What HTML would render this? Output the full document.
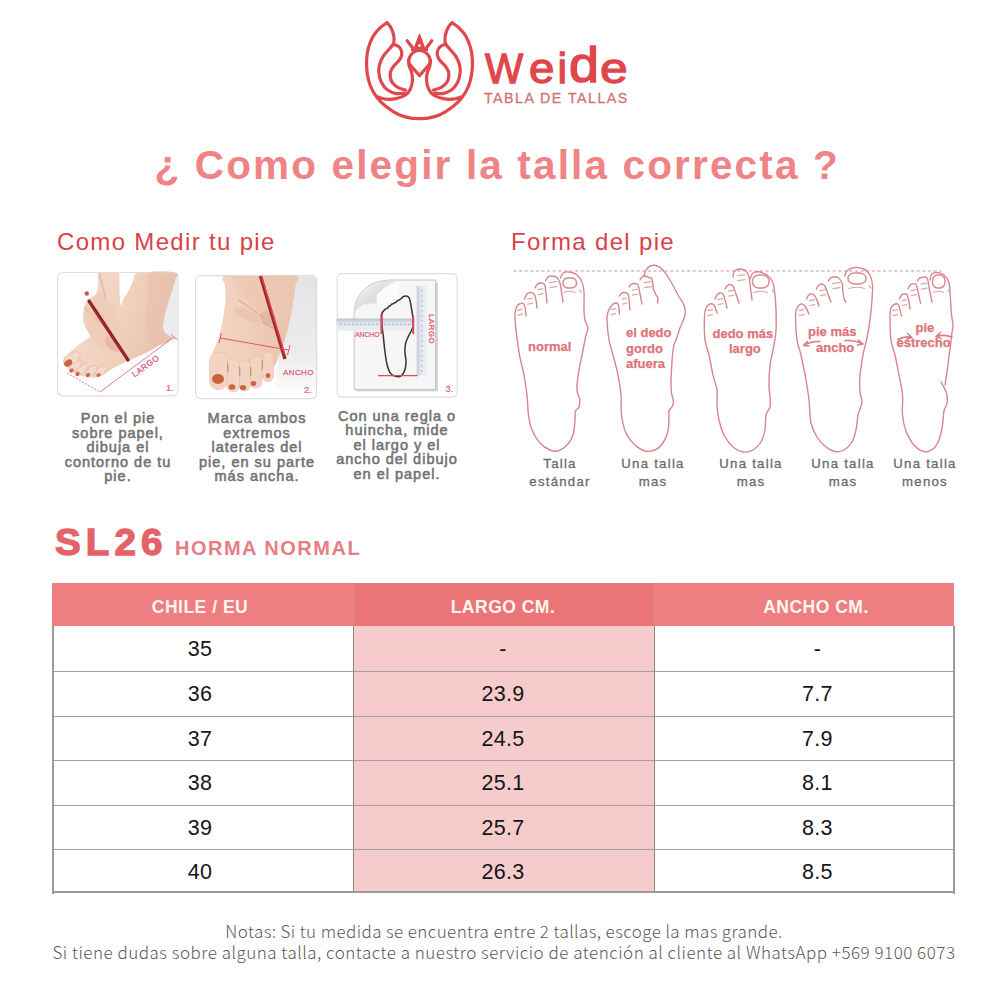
<!DOCTYPE html>
<html><head><meta charset="utf-8">
<style>
*{margin:0;padding:0;box-sizing:border-box}
html,body{width:1000px;height:1000px;background:#fff;overflow:hidden}
body{position:relative;font-family:"Liberation Sans",Arial,sans-serif}
.abs{position:absolute;white-space:nowrap}
#title{left:154.5px;top:142.3px;font-size:40.5px;font-weight:bold;color:#ef8385;letter-spacing:2.15px}
.h2{font-size:24px;color:#d8434a;letter-spacing:1.33px}
.cap{font-weight:normal;color:#727272;font-size:14.5px;line-height:14.5px;text-align:center;letter-spacing:1.0px;-webkit-text-stroke:0.55px #727272}
.fcap{color:#6a6a6a;font-size:13.2px;line-height:18px;text-align:center;letter-spacing:1.25px;-webkit-text-stroke:0.3px #6a6a6a}
table{position:absolute;left:52px;top:583px;border-collapse:collapse;width:903px}
.th{font-size:17.5px;font-weight:bold;color:#fff6f2;letter-spacing:0.5px;text-align:center;line-height:20px}
.td{width:200px;font-size:21.5px;color:#151515;letter-spacing:0.3px;text-align:center;line-height:24px}
.note{font-family:"Noto Sans CJK JP",sans-serif;font-weight:300;font-size:17px;color:#5a5a5a;text-align:center;letter-spacing:0.5px;line-height:21px}
.wd{top:41.5px;font-size:43px;line-height:53px;color:#e0474d;-webkit-text-stroke:1.3px #e0474d;transform-origin:0 83%}
</style></head><body>

<!-- LOGO -->
<div id="logo"><svg class="abs" style="left:350px;top:10px" width="140" height="120" viewBox="350 10 140 120">
<g fill="none" stroke="#e0484d" stroke-width="3.2" stroke-linecap="round" stroke-linejoin="round">
<path id="lh" d="M419.5,118.6C418.1,118.5 414.4,118.8 411.0,118.2C407.6,117.6 403.2,116.7 399.0,114.8C394.8,112.9 389.7,109.5 386.0,106.6C382.3,103.7 379.6,100.9 377.0,97.5C374.4,94.1 372.0,90.1 370.4,86.0C368.8,81.9 367.8,77.3 367.2,73.0C366.6,68.7 366.4,64.2 366.6,60.0C366.8,55.8 367.4,51.4 368.5,47.5C369.6,43.6 371.2,39.7 373.0,36.5C374.8,33.3 377.2,30.6 379.5,28.3C381.8,26.0 385.8,23.6 387.0,22.6 M387.0,22.6C387.6,23.3 389.5,25.0 390.6,27.0C391.7,29.0 392.9,32.2 393.5,34.5C394.1,36.8 394.1,39.2 394.0,41.0C393.9,42.8 393.0,44.3 392.8,45.0 M392.8,45.0C392.1,45.8 390.2,47.9 388.6,49.8C387.0,51.7 384.5,54.2 383.0,56.6C381.5,59.0 380.3,61.7 379.6,64.4C378.9,67.1 378.6,70.0 378.9,73.0C379.2,76.0 380.1,79.7 381.5,82.5C382.9,85.3 384.8,87.9 387.3,89.7C389.8,91.5 393.6,93.0 396.4,93.6C399.2,94.1 402.7,93.1 404.0,93.0 M393.5,44.2C394.4,44.6 397.3,45.5 398.6,46.5C399.9,47.5 400.8,49.0 401.3,50.5C401.8,52.0 402.0,53.6 401.6,55.3C401.2,57.0 400.3,58.8 399.0,60.5C397.7,62.2 395.4,63.9 394.0,65.7C392.6,67.5 391.2,69.6 390.6,71.5C390.0,73.4 390.1,75.2 390.3,77.0C390.5,78.8 390.8,80.4 392.0,82.1C393.2,83.8 395.4,86.0 397.7,87.3C399.9,88.6 404.2,89.5 405.5,90.0 M408.5,60.0C408.6,61.0 408.7,64.0 409.2,66.0C409.7,68.0 410.9,69.7 411.5,72.0C412.1,74.3 412.7,77.2 412.5,80.0C412.3,82.8 411.6,86.5 410.4,89.0C409.2,91.5 407.9,93.4 405.5,95.0C403.1,96.6 399.2,97.9 396.0,98.6C392.8,99.3 389.2,99.5 386.0,99.2C382.8,98.9 378.1,97.0 376.5,96.5"/>
<path d="M419.5,118.6C418.1,118.5 414.4,118.8 411.0,118.2C407.6,117.6 403.2,116.7 399.0,114.8C394.8,112.9 389.7,109.5 386.0,106.6C382.3,103.7 379.6,100.9 377.0,97.5C374.4,94.1 372.0,90.1 370.4,86.0C368.8,81.9 367.8,77.3 367.2,73.0C366.6,68.7 366.4,64.2 366.6,60.0C366.8,55.8 367.4,51.4 368.5,47.5C369.6,43.6 371.2,39.7 373.0,36.5C374.8,33.3 377.2,30.6 379.5,28.3C381.8,26.0 385.8,23.6 387.0,22.6 M387.0,22.6C387.6,23.3 389.5,25.0 390.6,27.0C391.7,29.0 392.9,32.2 393.5,34.5C394.1,36.8 394.1,39.2 394.0,41.0C393.9,42.8 393.0,44.3 392.8,45.0 M392.8,45.0C392.1,45.8 390.2,47.9 388.6,49.8C387.0,51.7 384.5,54.2 383.0,56.6C381.5,59.0 380.3,61.7 379.6,64.4C378.9,67.1 378.6,70.0 378.9,73.0C379.2,76.0 380.1,79.7 381.5,82.5C382.9,85.3 384.8,87.9 387.3,89.7C389.8,91.5 393.6,93.0 396.4,93.6C399.2,94.1 402.7,93.1 404.0,93.0 M393.5,44.2C394.4,44.6 397.3,45.5 398.6,46.5C399.9,47.5 400.8,49.0 401.3,50.5C401.8,52.0 402.0,53.6 401.6,55.3C401.2,57.0 400.3,58.8 399.0,60.5C397.7,62.2 395.4,63.9 394.0,65.7C392.6,67.5 391.2,69.6 390.6,71.5C390.0,73.4 390.1,75.2 390.3,77.0C390.5,78.8 390.8,80.4 392.0,82.1C393.2,83.8 395.4,86.0 397.7,87.3C399.9,88.6 404.2,89.5 405.5,90.0 M408.5,60.0C408.6,61.0 408.7,64.0 409.2,66.0C409.7,68.0 410.9,69.7 411.5,72.0C412.1,74.3 412.7,77.2 412.5,80.0C412.3,82.8 411.6,86.5 410.4,89.0C409.2,91.5 407.9,93.4 405.5,95.0C403.1,96.6 399.2,97.9 396.0,98.6C392.8,99.3 389.2,99.5 386.0,99.2C382.8,98.9 378.1,97.0 376.5,96.5" transform="translate(839,0) scale(-1,1)"/>
<path d="M409.3,64 A10.6,10.6 0 1,1 429.7,64 L419.5,75.6 Z"/>
</g>
<path d="M407.2,40.8 L412.5,47.8 M431.8,40.8 L426.5,47.8" stroke="#e0484d" stroke-width="3.2" stroke-linecap="round"/><path d="M419.5,35 L415,47.5 L424,47.5 Z" fill="#e0484d" stroke="#e0484d" stroke-width="2" stroke-linejoin="round"/><path d="M411,49.5 L428,49.5" stroke="#e0484d" stroke-width="3"/>
<circle cx="419.5" cy="45.6" r="1.3" fill="#fff"/>
</svg></div>
<div class="abs wd" style="left:485px;transform:scaleX(0.94)">W</div><div class="abs wd" style="left:528.5px;transform:scaleX(1.06)">e</div><div class="abs wd" style="left:557.5px">i</div><div class="abs wd" style="left:569px;transform:scale(1.25,1.18)">d</div><div class="abs wd" style="left:600px;transform:scaleX(1.16)">e</div>
<div class="abs" style="left:484px;top:89.5px;font-size:14.2px;line-height:16px;color:#d0717b;letter-spacing:1.5px;-webkit-text-stroke:0.3px #d0717b">TABLA DE TALLAS</div>

<div class="abs" id="title">¿ Como elegir la talla correcta ?</div>

<div class="abs h2" style="left:57px;top:228px">Como Medir tu pie</div>
<div class="abs h2" style="left:511px;top:228px">Forma del pie</div>

<!--PHOTOS-->
<svg class="abs" style="left:56px;top:271px" width="124" height="127" viewBox="56 271 124 127">
<defs>
<linearGradient id="sk1" x1="0" y1="0" x2="1" y2="0.3"><stop offset="0" stop-color="#f6dccd"/><stop offset="0.6" stop-color="#f1d0be"/><stop offset="1" stop-color="#e9c1ad"/></linearGradient>
</defs>
<rect x="57.6" y="272.5" width="120.4" height="123.4" rx="5" fill="#fff" stroke="#dedede" stroke-width="1.2"/>
<path d="M165,273.2 L173,273.2 Q177.4,273.2 177.4,278 L177.4,340 L160,340 Z" fill="#ececee"/>
<path d="M99.0,273.0C100.8,271.0 105.7,273.0 109.0,273.0C112.3,273.0 116.8,270.2 118.6,273.0C120.3,275.8 119.2,284.7 119.5,290.0C119.8,295.3 119.8,303.7 120.5,305.0C121.2,306.3 122.7,300.3 124.0,298.0C125.3,295.7 127.0,293.8 128.5,291.0C130.0,288.2 131.6,284.0 133.0,281.0C134.4,278.0 133.0,274.3 136.8,273.0C140.6,271.7 149.4,273.0 156.0,273.0C162.6,273.0 173.2,272.2 176.5,273.0C179.8,273.8 175.9,276.2 175.5,278.0C175.1,279.8 175.1,280.3 174.0,284.0C172.9,287.7 170.5,295.0 169.0,300.0C167.5,305.0 166.0,309.7 165.0,314.0C164.0,318.3 163.0,322.8 163.0,326.0C163.0,329.2 163.5,330.9 165.0,333.0C166.5,335.1 172.8,336.5 172.0,338.5C171.2,340.5 164.0,342.8 160.0,345.0C156.0,347.2 153.3,349.3 148.0,352.0C142.7,354.7 134.0,358.2 128.0,361.0C122.0,363.8 116.7,366.4 112.0,369.0C107.3,371.6 103.7,375.1 100.0,376.5C96.3,377.9 93.7,377.8 90.0,377.5C86.3,377.2 81.3,376.2 78.0,375.0C74.7,373.8 72.2,372.3 70.0,370.5C67.8,368.7 65.6,365.9 64.5,364.0C63.4,362.1 62.9,360.7 63.5,359.0C64.1,357.3 65.9,356.0 68.0,354.0C70.1,352.0 73.3,349.2 76.0,347.0C78.7,344.8 81.7,342.8 84.0,341.0C86.3,339.2 89.8,338.3 90.0,336.0C90.2,333.7 86.2,330.0 85.0,327.0C83.8,324.0 83.1,321.2 83.0,318.0C82.9,314.8 83.3,311.0 84.5,308.0C85.7,305.0 88.1,302.3 90.0,300.0C91.9,297.7 94.7,296.5 96.0,294.0C97.3,291.5 97.5,288.5 98.0,285.0C98.5,281.5 97.2,275.0 99.0,273.0Z" fill="url(#sk1)"/>
<path d="M150.0,273.0C154.8,268.5 172.5,271.2 176.5,273.0C180.5,274.8 175.2,279.5 174.0,284.0C172.8,288.5 170.5,295.0 169.0,300.0C167.5,305.0 166.0,309.7 165.0,314.0C164.0,318.3 163.0,322.8 163.0,326.0C163.0,329.2 163.5,330.9 165.0,333.0C166.5,335.1 172.8,336.5 172.0,338.5C171.2,340.5 163.7,344.8 160.0,345.0C156.3,345.2 152.3,344.2 150.0,340.0C147.7,335.8 146.3,326.7 146.0,320.0C145.7,313.3 147.3,307.8 148.0,300.0C148.7,292.2 145.2,277.5 150.0,273.0Z" fill="#e7bfaa" opacity="0.55"/>
<path d="M85.0,318.0C84.5,314.7 83.5,311.0 84.0,308.0C84.5,305.0 86.3,302.0 88.0,300.0C89.7,298.0 92.2,297.3 94.0,296.0C95.8,294.7 97.3,291.8 99.0,292.0C100.7,292.2 101.8,294.8 104.0,297.0C106.2,299.2 109.7,301.5 112.0,305.0C114.3,308.5 116.3,313.5 118.0,318.0C119.7,322.5 120.3,327.5 122.0,332.0C123.7,336.5 127.7,341.7 128.0,345.0C128.3,348.3 126.7,350.8 124.0,352.0C121.3,353.2 116.0,353.0 112.0,352.0C108.0,351.0 103.3,348.3 100.0,346.0C96.7,343.7 94.2,341.0 92.0,338.0C89.8,335.0 88.2,331.3 87.0,328.0C85.8,324.7 85.5,321.3 85.0,318.0Z" fill="#f0cdbb"/>
<path d="M99,273 C102,285 104,292 106,300" stroke="#e2b8a4" stroke-width="1.5" fill="none"/>
<path d="M84.5,308 C92,314 100,322 108,330" stroke="#e6bca8" stroke-width="1.2" fill="none"/>
<!-- toes -->
<g fill="#f5d9ca" stroke="#dcae9b" stroke-width="0.5">
<ellipse cx="101" cy="371" rx="6.5" ry="3.8" transform="rotate(-38 101 371)"/>
<ellipse cx="91.5" cy="371" rx="7" ry="3.7" transform="rotate(-42 91.5 371)"/>
<ellipse cx="82" cy="369.5" rx="7.5" ry="3.6" transform="rotate(-42 82 369.5)"/>
<ellipse cx="75.5" cy="366" rx="7.5" ry="3.6" transform="rotate(-40 75.5 366)"/>
<ellipse cx="72" cy="358.5" rx="9.5" ry="5.2" transform="rotate(-35 72 358.5)"/>
</g>
<g fill="#cc6648">
<ellipse cx="68.2" cy="363" rx="4.4" ry="3.2" transform="rotate(-35 68.2 363)"/>
<ellipse cx="71.5" cy="370.5" rx="2.3" ry="1.8" transform="rotate(-40 71.5 370.5)"/>
<ellipse cx="77.5" cy="374" rx="2.3" ry="1.8" transform="rotate(-40 77.5 374)"/>
<ellipse cx="88" cy="375" rx="2.3" ry="1.8" transform="rotate(-40 88 375)"/>
<ellipse cx="98.5" cy="375" rx="2.2" ry="1.7" transform="rotate(-40 98.5 375)"/>
</g>
<ellipse cx="113" cy="344" rx="10" ry="5.5" transform="rotate(42 113 344)" fill="#e7a596" opacity="0.55"/>
<ellipse cx="100" cy="318" rx="8" ry="5" transform="rotate(60 100 318)" fill="#ecc0ad" opacity="0.6"/>
<!-- pencil -->
<line x1="89" y1="301" x2="128" y2="360" stroke="#8e1f22" stroke-width="3.2" stroke-linecap="round"/>
<line x1="90" y1="303" x2="126" y2="357" stroke="#b8383a" stroke-width="1" opacity="0.6"/>
<circle cx="86.8" cy="293.5" r="2.2" fill="#c9545a"/>
<!-- largo lines -->
<g stroke="#d7708a" stroke-width="0.9" fill="none">
<path d="M67,373 L100,392" stroke-dasharray="2,1.5"/>
<path d="M100,392 L174,337"/>
<path d="M171,334.5 L177,339.5"/>
</g>
<text x="0" y="0" transform="translate(134.5,377.5) rotate(-36)" font-family="Liberation Sans, Arial, sans-serif" font-size="8.2" fill="#d4607a" stroke="#d4607a" stroke-width="0.3" letter-spacing="0.6">LARGO</text>
<text x="166" y="391" font-family="Liberation Sans, Arial, sans-serif" font-size="9.5" fill="#dc6478" stroke="#dc6478" stroke-width="0.2">1.</text>
</svg>
<svg class="abs" style="left:194px;top:274px" width="124" height="127" viewBox="194 274 124 127">
<defs>
<linearGradient id="sk2" x1="0" y1="0" x2="1" y2="0"><stop offset="0" stop-color="#f3d4c3"/><stop offset="0.5" stop-color="#f0cdb9"/><stop offset="1" stop-color="#e8bea9"/></linearGradient>
</defs>
<rect x="195.6" y="275.6" width="121" height="123" rx="5" fill="#fff" stroke="#dedede" stroke-width="1.2"/>
<linearGradient id="bg2" x1="0" y1="0" x2="0" y2="1"><stop offset="0" stop-color="#e4e4e7"/><stop offset="0.7" stop-color="#ececee"/><stop offset="1" stop-color="#fbfbfb"/></linearGradient>
<path d="M286,276.3 L311.6,276.3 Q316,276.3 316,281 L316,390 L275,390 Z" fill="url(#bg2)"/>
<path d="M224.5,276.0C230.3,274.3 248.1,276.0 260.0,276.0C271.9,276.0 290.2,274.5 296.0,276.0C301.8,277.5 295.2,282.2 295.0,285.0C294.8,287.8 295.2,288.2 294.5,293.0C293.8,297.8 292.2,307.5 291.0,314.0C289.8,320.5 288.5,326.2 287.0,332.0C285.5,337.8 283.5,344.7 282.0,349.0C280.5,353.3 279.3,355.2 278.0,358.0C276.7,360.8 276.7,364.3 274.0,366.0C271.3,367.7 267.7,367.5 262.0,368.0C256.3,368.5 247.7,369.3 240.0,369.0C232.3,368.7 221.0,366.5 216.0,366.0C211.0,365.5 210.5,368.3 210.0,366.0C209.5,363.7 211.6,356.7 213.0,352.0C214.4,347.3 216.9,343.2 218.5,338.0C220.1,332.8 221.3,327.3 222.5,321.0C223.7,314.7 225.1,305.8 225.5,300.0C225.9,294.2 225.2,290.0 225.0,286.0C224.8,282.0 218.7,277.7 224.5,276.0Z" fill="url(#sk2)"/>
<path d="M232,276 C236,290 246,300 262,312 C270,318 278,322 286,322 L291,314 L294.5,293 L297,276 Z" fill="#eec7b4" opacity="0.8"/>
<path d="M238,300 C248,306 256,312 264,318" stroke="#dcae98" stroke-width="1.2" fill="none"/>
<path d="M262,322 C268,326 272,328 278,330" stroke="#d9a690" stroke-width="1.5" fill="none"/>
<!-- toes -->
<g fill="#f3d3c2" stroke="#e2b5a2" stroke-width="0.5">
<rect x="262.5" y="352" width="11" height="29.5" rx="5.5"/>
<rect x="250" y="356" width="12" height="32" rx="6"/>
<rect x="239" y="360" width="11.5" height="31" rx="5.7"/>
<rect x="227" y="358" width="12.5" height="34" rx="6.2"/>
<rect x="209.5" y="352" width="18" height="37.5" rx="8.5"/>
</g>
<g stroke="#b98a78" stroke-width="1.3" fill="none" opacity="0.8">
<path d="M227.5,363 L228,372"/>
<path d="M239.5,367 L239.8,376"/>
<path d="M250.5,367 L250.8,376"/>
<path d="M262.5,360 L262,370"/>
</g>
<g fill="#c9633f">
<ellipse cx="218" cy="379" rx="6" ry="5"/>
<ellipse cx="232" cy="387" rx="3.3" ry="2.8"/>
<ellipse cx="243" cy="387.5" rx="3.2" ry="2.6"/>
<ellipse cx="253.5" cy="383.5" rx="2.8" ry="2.5"/>
<ellipse cx="268" cy="375.5" rx="2.3" ry="2.5"/>
</g>
<ellipse cx="268" cy="318" rx="9" ry="6" transform="rotate(30 268 318)" fill="#dfa995" opacity="0.55"/>
<ellipse cx="247" cy="315" rx="14" ry="5" transform="rotate(25 247 315)" fill="#e6b8a4" opacity="0.5"/>
<!-- pencil -->
<line x1="260.5" y1="276" x2="285" y2="359" stroke="#a5262a" stroke-width="3.4" stroke-linecap="butt"/>
<line x1="261.5" y1="276" x2="284.5" y2="354" stroke="#d9494d" stroke-width="1.2"/>
<!-- ancho line -->
<g stroke="#dc4a55" stroke-width="0.9" fill="none">
<path d="M220,338 L288.6,350"/>
<path d="M221.5,333 L219,343"/>
<path d="M290,345 L287.5,355"/>
</g>
<text x="283" y="374.5" font-family="Liberation Sans, Arial, sans-serif" font-size="8" fill="#d9607a" stroke="#d9607a" stroke-width="0.25" letter-spacing="0.4">ANCHO</text>
<text x="304" y="393" font-family="Liberation Sans, Arial, sans-serif" font-size="9.5" fill="#dc6478" stroke="#dc6478" stroke-width="0.2">2.</text>
</svg>
<svg class="abs" style="left:335px;top:272px" width="125" height="128" viewBox="335 272 125 128">
<defs>
<linearGradient id="curl" x1="0" y1="0" x2="1" y2="1"><stop offset="0" stop-color="#fafafa"/><stop offset="0.45" stop-color="#dedede"/><stop offset="0.8" stop-color="#e2e2e2"/><stop offset="1" stop-color="#f0f0f0"/></linearGradient>
<linearGradient id="rul" x1="0" y1="0" x2="0" y2="1"><stop offset="0" stop-color="#b9bfd2"/><stop offset="0.35" stop-color="#dde0ea"/><stop offset="1" stop-color="#eef0f5"/></linearGradient>
<linearGradient id="rulv" x1="0" y1="0" x2="1" y2="0"><stop offset="0" stop-color="#c4c9da"/><stop offset="0.4" stop-color="#e4e7ef"/><stop offset="1" stop-color="#eff1f6"/></linearGradient>
</defs>
<rect x="337.2" y="273.6" width="120" height="123.6" rx="5" fill="#fff" stroke="#dedede" stroke-width="1.2"/>
<!-- paper shadow -->
<path d="M356.5,314 C356.5,298 368,284 392,282.5 L438,282.5 L438,391.5 L356.5,391.5 Z" fill="#d6d6d6"/>
<path d="M354.2,313 C354.2,296 366,281 390,280 L435.6,280 L435.6,389.6 L354.2,389.6 Z" fill="#f6f6f6" stroke="#b8b8b8" stroke-width="0.8"/>
<!-- curl -->
<path d="M354.6,313 C355,298 366,282.5 390,280.6 L399,280.6 C392,282 385,286 380,292 L377,294 L377,303.5 L364,304 C360,306 357,309 354.6,313 Z" fill="url(#curl)"/>
<path d="M377,294 L377,303.5 L364,304" stroke="#e9e9e9" stroke-width="1" fill="none"/>
<path d="M377.3,294.5 L386,288 L399,281.5 L399,300 L377.3,303.5 Z" fill="#fbfbfb"/>
<!-- rulers -->
<rect x="336.5" y="318.5" width="78" height="12.5" fill="url(#rul)" opacity="0.95"/>
<rect x="416.7" y="286" width="10.5" height="89.6" fill="url(#rulv)"/>
<g stroke="#8a8fa3" stroke-width="0.8">
<path d="M340,324.5 h1.5 M344,324.5 h1.5 M348,324.5 h1.5 M352,324.5 h1.5 M356,324.5 h1.5 M360,324.5 h1.5 M364,324.5 h1.5 M368,324.5 h1.5 M372,324.5 h1.5 M376,324.5 h1.5 M384,324.5 h1.5 M388,324.5 h1.5 M392,324.5 h1.5 M396,324.5 h1.5 M400,324.5 h1.5 M404,324.5 h1.5 M408,324.5 h1.5"/>
<path d="M422,290 v1.5 M422,295 v1.5 M422,300 v1.5 M422,305 v1.5 M422,310 v1.5 M422,315 v1.5 M422,320 v1.5 M422,325 v1.5 M422,330 v1.5 M422,335 v1.5 M422,340 v1.5 M422,345 v1.5 M422,350 v1.5 M422,355 v1.5 M422,360 v1.5 M422,365 v1.5 M422,370 v1.5"/>
</g>
<path d="M381.8,314.0C382.2,311.8 383.3,311.4 384.0,310.5C384.7,309.6 385.4,309.0 386.0,308.6C386.6,308.2 387.1,308.6 387.6,308.2C388.1,307.8 388.3,306.7 388.8,306.3C389.3,305.9 389.9,306.0 390.4,305.6C390.9,305.2 391.2,304.5 391.6,304.2C392.0,303.9 392.5,304.0 393.0,303.8C393.5,303.6 393.9,303.1 394.4,302.8C394.9,302.6 395.4,302.7 395.9,302.3C396.4,301.9 396.8,301.0 397.2,300.7C397.6,300.4 398.1,300.5 398.6,300.3C399.1,300.1 399.5,299.6 400.0,299.3C400.5,299.0 401.0,298.9 401.5,298.5C402.0,298.1 402.0,297.3 402.8,296.9C403.6,296.5 405.2,295.9 406.3,296.1C407.4,296.3 408.4,296.8 409.1,297.9C409.8,299.0 410.0,300.6 410.5,302.8C411.0,305.0 411.4,308.2 411.9,311.2C412.4,314.2 413.2,318.2 413.3,321.0C413.4,323.8 413.4,325.4 412.6,328.0C411.8,330.6 409.6,333.8 408.4,336.4C407.2,339.0 406.2,340.8 405.6,343.4C405.0,346.0 404.8,348.8 404.9,351.8C405.0,354.8 406.0,358.6 406.0,361.6C406.0,364.6 405.7,367.7 404.9,370.0C404.1,372.3 402.9,374.6 401.4,375.6C399.9,376.7 397.7,376.8 395.8,376.3C393.9,375.8 391.7,375.0 390.2,372.8C388.7,370.6 387.6,367.0 386.7,363.0C385.8,359.0 385.2,353.7 384.6,349.0C384.0,344.3 383.7,339.2 383.2,335.0C382.7,330.8 382.0,327.3 381.8,323.8C381.6,320.3 381.4,316.2 381.8,314.0Z" fill="none" stroke="#363232" stroke-width="1.5"/>
<g stroke="#d94a5e" fill="none">
<path d="M378.2,375.6 L417.4,375.6" stroke-width="1.2"/>
<path d="M381.5,314 L381.5,334" stroke-width="2.2"/>
<path d="M413.2,316 L413.2,334" stroke-width="2"/>
</g>
<text x="355" y="336.6" font-family="Liberation Sans, Arial, sans-serif" font-size="6.8" fill="#de5a6c" stroke="#de5a6c" stroke-width="0.2">ANCHO</text>
<text x="0" y="0" transform="translate(429,314) rotate(90)" font-family="Liberation Sans, Arial, sans-serif" font-size="8" fill="#de5a6c" stroke="#de5a6c" stroke-width="0.25" letter-spacing="0.4">LARGO</text>
<text x="445.4" y="392" font-family="Liberation Sans, Arial, sans-serif" font-size="9.5" fill="#dc6478" stroke="#dc6478" stroke-width="0.2">3.</text>
</svg><!--/PHOTOS-->
<!-- captions left -->
<div class="abs cap" style="left:58px;top:411px;width:120px">Pon el pie<br>sobre papel,<br>dibuja el<br>contorno de tu<br>pie.</div>
<div class="abs cap" style="left:197px;top:411px;width:120px">Marca ambos<br>extremos<br>laterales del<br>pie, en su parte<br>más ancha.</div>
<div class="abs cap" style="left:334px;top:408.7px;width:126px">Con una regla o<br>huincha, mide<br>el largo y el<br>ancho del dibujo<br>en el papel.</div>

<!--FEET--><svg class="abs" style="left:500px;top:260px" width="480" height="200" viewBox="500 260 480 200">
<line x1="513.5" y1="271" x2="941.5" y2="271" stroke="#c99196" stroke-width="1.2" stroke-dasharray="3,2.6"/>
<g fill="none" stroke="#d8868b" stroke-width="1.4" stroke-linecap="round" stroke-linejoin="round">
<path d="M526.0,316.0C525.8,314.2 525.4,307.1 524.5,305.0C523.6,302.9 521.8,303.2 520.5,303.5C519.2,303.8 517.4,305.2 516.5,307.0C515.6,308.8 515.1,310.2 515.0,314.0C514.9,317.8 515.2,323.2 516.0,330.0C516.8,336.8 518.2,347.5 519.5,355.0C520.8,362.5 522.8,368.3 524.0,375.0C525.2,381.7 526.2,388.3 527.0,395.0C527.8,401.7 527.7,409.2 528.5,415.0C529.3,420.8 530.1,425.3 532.0,430.0C533.9,434.7 537.0,439.7 540.0,443.0C543.0,446.3 547.0,448.7 550.0,450.0C553.0,451.3 555.2,451.8 558.0,451.0C560.8,450.2 564.5,447.7 567.0,445.0C569.5,442.3 571.7,439.2 573.0,435.0C574.3,430.8 574.6,424.0 575.0,420.0C575.4,416.0 574.8,413.2 575.5,411.0C576.2,408.8 578.3,409.2 579.0,407.0C579.7,404.8 579.8,400.3 579.5,398.0C579.2,395.7 577.9,395.2 577.5,393.0C577.1,390.8 576.8,388.8 577.0,385.0C577.2,381.2 578.2,375.0 579.0,370.0C579.8,365.0 581.2,359.2 582.0,355.0C582.8,350.8 583.3,348.3 584.0,345.0C584.7,341.7 585.3,337.8 586.0,335.0C586.7,332.2 588.2,330.5 588.0,328.0C587.8,325.5 585.7,323.0 585.0,320.0C584.3,317.0 584.2,314.7 584.0,310.0C583.8,305.3 584.3,296.7 584.0,292.0C583.7,287.3 583.2,284.8 582.0,282.0C580.8,279.2 579.2,276.7 577.0,275.0C574.8,273.3 571.3,272.3 569.0,272.0C566.7,271.7 564.4,272.0 563.0,273.0C561.6,274.0 560.9,277.2 560.5,278.0 M524.5,299.0C524.9,298.2 526.0,295.1 527.0,294.0C528.0,292.9 529.3,292.5 530.5,292.5C531.7,292.5 533.1,292.8 534.0,294.0C534.9,295.2 535.5,297.7 536.0,300.0C536.5,302.3 536.8,306.7 537.0,308.0 M535.0,288.0C535.4,287.3 536.6,284.8 537.5,284.0C538.4,283.2 539.3,282.9 540.5,283.0C541.7,283.1 543.6,282.8 544.5,284.5C545.4,286.2 545.6,289.9 546.0,293.0C546.4,296.1 546.8,301.3 547.0,303.0 M545.5,281.0C545.9,280.3 546.9,277.8 548.0,277.0C549.1,276.2 550.5,275.9 552.0,276.0C553.5,276.1 555.7,276.3 557.0,277.5C558.3,278.7 559.2,280.6 560.0,283.0C560.8,285.4 561.0,288.8 561.5,292.0C562.0,295.2 562.8,300.3 563.0,302.0 M619.5,314.0C619.3,312.5 619.1,306.8 618.5,305.0C617.9,303.2 617.1,303.0 616.0,303.0C614.9,303.0 613.3,303.5 612.0,305.0C610.7,306.5 608.8,309.5 608.0,312.0C607.2,314.5 606.8,315.3 607.0,320.0C607.2,324.7 608.0,334.2 609.0,340.0C610.0,345.8 611.5,349.2 613.0,355.0C614.5,360.8 616.7,368.3 618.0,375.0C619.3,381.7 620.4,388.3 621.0,395.0C621.6,401.7 620.7,408.7 621.5,415.0C622.3,421.3 623.8,428.0 626.0,433.0C628.2,438.0 631.8,442.0 635.0,445.0C638.2,448.0 641.7,450.2 645.0,451.0C648.3,451.8 652.0,451.3 655.0,450.0C658.0,448.7 660.8,446.2 663.0,443.0C665.2,439.8 667.0,435.3 668.0,431.0C669.0,426.7 668.8,420.3 669.0,417.0C669.2,413.7 668.3,413.0 669.0,411.0C669.7,409.0 672.3,407.0 673.0,405.0C673.7,403.0 673.2,401.0 673.0,399.0C672.8,397.0 671.8,396.2 671.5,393.0C671.2,389.8 670.8,386.3 671.0,380.0C671.2,373.7 672.0,360.8 672.5,355.0C673.0,349.2 673.4,347.5 674.0,345.0C674.6,342.5 675.0,342.8 676.0,340.0C677.0,337.2 678.5,332.2 680.0,328.0C681.5,323.8 684.3,318.8 685.0,315.0C685.7,311.2 685.2,308.3 684.0,305.0C682.8,301.7 680.3,299.2 678.0,295.0C675.7,290.8 672.7,284.3 670.0,280.0C667.3,275.7 664.3,271.4 662.0,269.0C659.7,266.6 658.0,266.0 656.0,265.5C654.0,265.0 651.8,265.1 650.0,266.0C648.2,266.9 646.5,269.3 645.5,271.0C644.5,272.7 644.2,275.2 644.0,276.0 M619.5,296.0C619.8,295.6 620.8,294.1 621.5,293.5C622.2,292.9 622.9,292.4 624.0,292.5C625.1,292.6 627.2,292.8 628.0,294.0C628.8,295.2 628.7,297.3 629.0,300.0C629.3,302.7 629.8,308.3 630.0,310.0 M629.0,287.0C629.3,286.6 630.2,285.1 631.0,284.5C631.8,283.9 632.3,283.4 633.5,283.5C634.7,283.6 636.9,283.2 638.0,285.0C639.1,286.8 639.3,290.8 640.0,294.0C640.7,297.2 641.7,302.3 642.0,304.0 M640.0,280.0C640.3,279.5 641.2,277.7 642.0,277.0C642.8,276.3 643.8,275.9 645.0,276.0C646.2,276.1 647.8,277.0 649.0,277.5C650.2,278.0 651.2,277.1 652.0,279.0C652.8,280.9 652.8,286.3 653.5,289.0C654.2,291.7 655.2,293.5 656.0,295.0C656.8,296.5 657.8,296.7 658.0,298.0C658.2,299.3 657.6,302.2 657.5,303.0 M717.0,313.0C716.5,311.7 715.2,306.5 714.0,305.0C712.8,303.5 711.3,303.5 710.0,304.0C708.7,304.5 706.9,306.0 706.0,308.0C705.1,310.0 704.7,310.7 704.5,316.0C704.3,321.3 704.2,333.5 705.0,340.0C705.8,346.5 707.7,349.2 709.0,355.0C710.3,360.8 711.7,369.2 713.0,375.0C714.3,380.8 716.3,385.0 717.0,390.0C717.7,395.0 716.7,400.0 717.0,405.0C717.3,410.0 717.8,415.0 719.0,420.0C720.2,425.0 721.7,430.5 724.0,435.0C726.3,439.5 729.8,444.2 733.0,447.0C736.2,449.8 739.7,451.5 743.0,452.0C746.3,452.5 750.0,451.7 753.0,450.0C756.0,448.3 759.0,445.3 761.0,442.0C763.0,438.7 764.2,434.5 765.0,430.0C765.8,425.5 765.2,418.8 766.0,415.0C766.8,411.2 769.3,410.0 770.0,407.0C770.7,404.0 770.2,400.7 770.0,397.0C769.8,393.3 769.0,390.3 769.0,385.0C769.0,379.7 769.5,370.0 770.0,365.0C770.5,360.0 771.3,358.3 772.0,355.0C772.7,351.7 773.3,349.2 774.0,345.0C774.7,340.8 775.7,335.8 776.0,330.0C776.3,324.2 776.2,315.8 776.0,310.0C775.8,304.2 775.5,299.5 775.0,295.0C774.5,290.5 774.2,286.2 773.0,283.0C771.8,279.8 770.2,277.8 768.0,276.0C765.8,274.2 762.5,272.5 760.0,272.0C757.5,271.5 754.6,272.0 753.0,273.0C751.4,274.0 750.9,277.2 750.5,278.0 M715.0,299.0C715.3,298.3 716.2,296.0 717.0,295.0C717.8,294.0 718.5,293.2 719.5,293.0C720.5,292.8 722.1,292.8 723.0,294.0C723.9,295.2 724.3,297.7 725.0,300.0C725.7,302.3 726.7,306.7 727.0,308.0 M725.0,289.0C725.3,288.5 726.2,286.8 727.0,286.0C727.8,285.2 728.5,284.5 729.5,284.5C730.5,284.5 731.9,284.4 733.0,286.0C734.1,287.6 735.0,291.2 736.0,294.0C737.0,296.8 738.5,301.5 739.0,303.0 M733.0,277.0C733.2,276.2 733.3,273.2 734.0,272.0C734.7,270.8 735.8,270.0 737.0,269.5C738.2,269.0 739.5,268.8 741.0,269.0C742.5,269.2 744.7,269.7 746.0,271.0C747.3,272.3 748.2,274.2 749.0,277.0C749.8,279.8 750.0,284.2 750.5,288.0C751.0,291.8 751.8,298.0 752.0,300.0 M809.0,314.0C808.3,312.7 806.3,307.7 805.0,306.0C803.7,304.3 802.3,303.7 801.0,304.0C799.7,304.3 797.9,306.0 797.0,308.0C796.1,310.0 795.5,310.7 795.5,316.0C795.5,321.3 796.1,333.5 797.0,340.0C797.9,346.5 799.5,348.3 801.0,355.0C802.5,361.7 804.7,372.5 806.0,380.0C807.3,387.5 808.2,392.8 809.0,400.0C809.8,407.2 809.7,416.8 811.0,423.0C812.3,429.2 814.5,433.0 817.0,437.0C819.5,441.0 823.0,444.6 826.0,447.0C829.0,449.4 832.0,451.0 835.0,451.5C838.0,452.0 841.2,451.6 844.0,450.0C846.8,448.4 850.0,445.3 852.0,442.0C854.0,438.7 855.0,434.5 856.0,430.0C857.0,425.5 857.3,418.5 858.0,415.0C858.7,411.5 859.3,411.3 860.0,409.0C860.7,406.7 862.0,403.8 862.0,401.0C862.0,398.2 860.3,396.3 860.0,392.0C859.7,387.7 859.5,381.2 860.0,375.0C860.5,368.8 862.3,359.2 863.0,355.0C863.7,350.8 863.3,352.8 864.0,350.0C864.7,347.2 866.0,343.0 867.0,338.0C868.0,333.0 869.2,326.3 870.0,320.0C870.8,313.7 871.6,305.8 872.0,300.0C872.4,294.2 872.8,289.2 872.5,285.0C872.2,280.8 871.4,277.7 870.0,275.0C868.6,272.3 866.5,270.2 864.0,269.0C861.5,267.8 857.7,267.3 855.0,267.5C852.3,267.7 849.8,268.6 848.0,270.0C846.2,271.4 845.1,275.0 844.5,276.0 M806.5,299.0C806.8,298.5 807.3,296.8 808.0,296.0C808.7,295.2 809.5,294.2 810.5,294.0C811.5,293.8 812.9,294.0 814.0,295.0C815.1,296.0 816.2,298.2 817.0,300.0C817.8,301.8 818.7,305.0 819.0,306.0 M816.5,289.0C816.8,288.5 817.3,286.8 818.0,286.0C818.7,285.2 819.4,284.1 820.5,284.0C821.6,283.9 823.2,283.8 824.5,285.5C825.8,287.2 826.9,291.2 828.0,294.0C829.1,296.8 830.5,300.7 831.0,302.0 M828.5,281.0C828.8,280.6 829.2,279.2 830.0,278.5C830.8,277.8 831.7,277.2 833.0,277.0C834.3,276.8 836.5,276.5 838.0,277.5C839.5,278.5 841.2,280.6 842.0,283.0C842.8,285.4 842.6,289.2 843.0,292.0C843.4,294.8 844.0,298.3 844.5,300.0C845.0,301.7 845.8,301.7 846.0,302.0 M901.5,316.0C901.0,314.2 899.6,307.0 898.5,305.0C897.4,303.0 896.2,303.5 895.0,304.0C893.8,304.5 891.8,306.0 891.0,308.0C890.2,310.0 890.0,310.7 890.0,316.0C890.0,321.3 890.2,333.5 891.0,340.0C891.8,346.5 893.7,349.2 895.0,355.0C896.3,360.8 897.8,368.3 899.0,375.0C900.2,381.7 901.9,388.3 902.5,395.0C903.1,401.7 901.9,409.0 902.5,415.0C903.1,421.0 904.1,426.0 906.0,431.0C907.9,436.0 911.0,441.6 914.0,445.0C917.0,448.4 920.8,450.8 924.0,451.5C927.2,452.2 930.5,450.9 933.0,449.0C935.5,447.1 937.4,444.0 939.0,440.0C940.6,436.0 941.7,429.8 942.5,425.0C943.3,420.2 943.2,414.7 944.0,411.0C944.8,407.3 946.6,406.0 947.0,403.0C947.4,400.0 947.5,396.5 946.5,393.0C945.5,389.5 941.9,383.8 941.0,382.0 M945.0,385.0C945.5,381.7 947.3,370.0 948.0,365.0C948.7,360.0 948.7,357.5 949.0,355.0C949.3,352.5 949.6,353.2 950.0,350.0C950.4,346.8 951.0,340.2 951.5,336.0C952.0,331.8 953.0,328.5 953.0,325.0C953.0,321.5 951.9,319.2 951.5,315.0C951.1,310.8 950.9,305.3 950.5,300.0C950.1,294.7 950.1,287.2 949.0,283.0C947.9,278.8 946.0,276.8 944.0,275.0C942.0,273.2 939.0,272.7 937.0,272.5C935.0,272.3 933.2,272.8 932.0,274.0C930.8,275.2 930.3,279.0 930.0,280.0 M899.5,299.0C899.8,298.5 900.4,296.8 901.0,296.0C901.6,295.2 902.0,294.2 903.0,294.0C904.0,293.8 906.0,293.2 907.0,294.5C908.0,295.8 908.5,299.6 909.0,302.0C909.5,304.4 909.8,307.8 910.0,309.0 M908.0,289.0C908.2,288.5 908.9,286.8 909.5,286.0C910.1,285.2 910.4,284.2 911.5,284.0C912.6,283.8 914.8,282.8 916.0,284.5C917.2,286.2 917.8,290.9 918.5,294.0C919.2,297.1 920.2,301.5 920.5,303.0 M917.5,281.0C917.8,280.6 918.3,279.1 919.0,278.5C919.7,277.9 920.2,277.6 921.5,277.5C922.8,277.4 925.7,275.9 927.0,278.0C928.3,280.1 928.7,286.0 929.5,290.0C930.3,294.0 931.6,300.0 932.0,302.0"/>
<rect x="563" y="278" width="13.5" height="10" rx="5.2" ry="4.5"/><rect x="752.5" y="275" width="16.5" height="13" rx="6.3" ry="5.9"/><rect x="848" y="273" width="18" height="11" rx="6.9" ry="5.0"/><rect x="932.5" y="275" width="12.5" height="13" rx="4.8" ry="5.9"/>
</g>
<path d="M517.7,310.1 L522.1,309.1 M518.0,315.1 L522.4,314.1 M527.5,299.1 L532.5,298.1 M527.8,304.1 L532.8,303.1 M537.9,289.6 L542.7,288.6 M538.2,294.6 L543.0,293.6 M549.6,282.6 L556.6,281.6 M549.9,287.6 L556.9,286.6 M564.0,292.5 Q569.8,290.0 575.0,292.5 M579.5,290.0 L581.5,292.0 M610.8,309.6 L615.4,308.6 M611.1,314.6 L615.7,313.6 M622.1,299.1 L626.3,298.1 M622.4,304.1 L626.6,303.1 M632.2,290.1 L637.4,289.1 M632.4,295.1 L637.6,294.1 M644.3,282.6 L651.5,281.6 M644.5,287.6 L651.7,286.6 M707.5,310.6 L712.5,309.6 M707.8,315.6 L712.8,314.6 M717.9,299.6 L722.7,298.6 M718.2,304.6 L723.0,303.6 M728.4,291.1 L734.0,290.1 M728.6,296.1 L734.2,295.1 M737.5,275.6 L745.1,274.6 M737.7,280.6 L745.3,279.6 M753.5,292.5 Q760.8,290.0 767.5,292.5 M772.0,290.0 L774.0,292.0 M798.8,310.6 L804.2,309.6 M799.0,315.6 L804.4,314.6 M809.5,300.6 L814.5,299.6 M809.8,305.6 L814.8,304.6 M820.0,290.6 L825.8,289.6 M820.2,295.6 L826.0,294.6 M832.6,283.6 L839.6,282.6 M832.9,288.6 L839.9,287.6 M849.0,288.5 Q857.0,286.0 864.5,288.5 M869.0,286.0 L871.0,288.0 M892.8,310.6 L897.4,309.6 M893.1,315.6 L897.7,314.6 M902.1,300.6 L906.3,299.6 M902.4,305.6 L906.6,304.6 M911.0,290.6 L916.0,289.6 M911.3,295.6 L916.3,294.6 M921.0,284.1 L926.8,283.1 M921.2,289.1 L927.0,288.1 M933.5,292.5 Q938.8,290.0 943.5,292.5 M948.0,290.0 L950.0,292.0" fill="none" stroke="#d6a8ac" stroke-width="1.1" stroke-linecap="round"/>
<g font-family="Liberation Sans, Arial, sans-serif" font-weight="bold" font-size="13" fill="#dc7479" stroke="#dc7479" stroke-width="0.25">
<text x="528" y="350.5">normal</text>
<text x="626" y="337">el dedo</text>
<text x="626" y="352.5">gordo</text>
<text x="626" y="368">afuera</text>
<text x="712.5" y="338">dedo más</text>
<text x="729" y="352.5">largo</text>
<text x="808" y="336">pie más</text>
<text x="816" y="351.5">ancho</text>
<text x="915.5" y="332">pie</text>
<text x="896.5" y="347">estrecho</text>
</g>
<g fill="none" stroke="#dc7c81" stroke-width="1.6" stroke-linecap="round" stroke-linejoin="round">
<path d="M820,341.5 Q811,341 803.5,345.5 M803.5,345.5 L807.5,341.5 M803.5,345.5 L809,346"/>
<path d="M845,340.5 Q855,340 863,344 M863,344 L858,340 M863,344 L857.5,345"/>
<path d="M898,339.5 Q905,335.5 912,337.5 M912,337.5 L907.5,333.5 M912,337.5 L907,339"/>
<path d="M952,337 Q944,334 936,336.5 M936,336.5 L940.5,332.5 M936,336.5 L941,338.5"/>
</g>
</svg><!--/FEET-->
<!-- foot captions -->
<div class="abs fcap" style="left:520px;top:455px;width:80px">Talla<br>estándar</div>
<div class="abs fcap" style="left:613px;top:455px;width:80px">Una talla<br>mas</div>
<div class="abs fcap" style="left:711px;top:455px;width:80px">Una talla<br>mas</div>
<div class="abs fcap" style="left:803px;top:455px;width:80px">Una talla<br>mas</div>
<div class="abs fcap" style="left:885px;top:455px;width:80px">Una talla<br>menos</div>

<div class="abs" style="left:55px;top:522px;font-size:36px;font-weight:bold;color:#e4626a;letter-spacing:4.8px;-webkit-text-stroke:1.3px #e4626a;transform:scaleX(1.07);transform-origin:0 0">SL26</div>
<div class="abs" style="left:175px;top:537px;font-size:20px;font-weight:bold;color:#e67e84;letter-spacing:1.5px">HORMA NORMAL</div>


<!-- TABLE -->
<div class="abs" style="left:52px;top:583px;width:902px;height:43px;background:#ee7e80"></div>
<div class="abs" style="left:354px;top:583px;width:300px;height:43px;background:#eb7476"></div>
<div class="abs" style="left:354px;top:626px;width:300px;height:266px;background:#f6cbcc"></div>
<div class="abs" style="left:353px;top:583px;width:1px;height:43px;background:#d88c8c"></div>
<div class="abs" style="left:654px;top:583px;width:1px;height:43px;background:#d88c8c"></div>
<div class="abs" style="left:353px;top:626px;width:1px;height:266px;background:#888"></div>
<div class="abs" style="left:654px;top:626px;width:1px;height:266px;background:#888"></div>
<div class="abs" style="left:52px;top:626px;width:2px;height:268px;background:#9a9a9a"></div>
<div class="abs" style="left:953px;top:626px;width:2px;height:268px;background:#9a9a9a"></div>
<div class="abs" style="left:52px;top:891px;width:903px;height:2px;background:#9a9a9a"></div>
<div class="abs" style="left:54px;top:671px;width:899px;height:1px;background:#a0a0a0"></div>
<div class="abs" style="left:54px;top:716px;width:899px;height:1px;background:#a0a0a0"></div>
<div class="abs" style="left:54px;top:760px;width:899px;height:1px;background:#a0a0a0"></div>
<div class="abs" style="left:54px;top:805px;width:899px;height:1px;background:#a0a0a0"></div>
<div class="abs" style="left:54px;top:849px;width:899px;height:1px;background:#a0a0a0"></div>
<div class="th abs" style="left:100px;top:597px;width:200px">CHILE / EU</div>
<div class="th abs" style="left:403px;top:597px;width:200px">LARGO CM.</div>
<div class="th abs" style="left:716px;top:597px;width:200px">ANCHO CM.</div>
<div class="td abs" style="left:100px;top:637px">35</div><div class="td abs" style="left:403px;top:637px">-</div><div class="td abs" style="left:717.5px;top:637px">-</div>
<div class="td abs" style="left:100px;top:682px">36</div><div class="td abs" style="left:403px;top:682px">23.9</div><div class="td abs" style="left:717.5px;top:682px">7.7</div>
<div class="td abs" style="left:100px;top:727px">37</div><div class="td abs" style="left:403px;top:727px">24.5</div><div class="td abs" style="left:717.5px;top:727px">7.9</div>
<div class="td abs" style="left:100px;top:771px">38</div><div class="td abs" style="left:403px;top:771px">25.1</div><div class="td abs" style="left:717.5px;top:771px">8.1</div>
<div class="td abs" style="left:100px;top:816px">39</div><div class="td abs" style="left:403px;top:816px">25.7</div><div class="td abs" style="left:717.5px;top:816px">8.3</div>
<div class="td abs" style="left:100px;top:860px">40</div><div class="td abs" style="left:403px;top:860px">26.3</div><div class="td abs" style="left:717.5px;top:860px">8.5</div>

<div class="abs note" style="left:0;top:920px;width:1008px;letter-spacing:0.4px">Notas: Si tu medida se encuentra entre 2 tallas, escoge la mas grande.</div>
<div class="abs note" style="left:0;top:941px;width:1008px">Si tiene dudas sobre alguna talla, contacte a nuestro servicio de atención al cliente al WhatsApp +569 9100 6073</div>
</body></html>
